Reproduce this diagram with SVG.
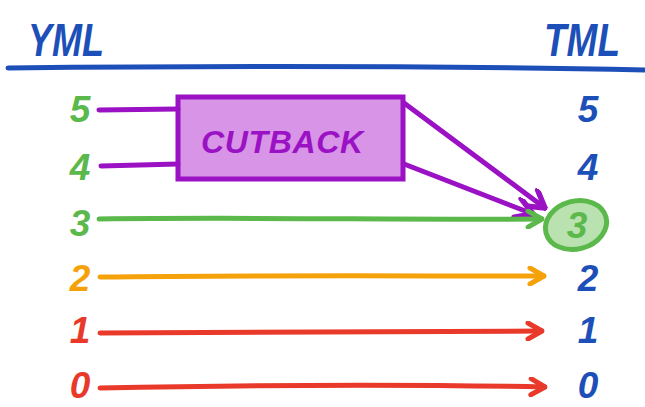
<svg xmlns="http://www.w3.org/2000/svg" width="645" height="407" viewBox="0 0 645 407">
<style>
text{font-family:"Liberation Sans",Arial,sans-serif;font-style:italic;text-anchor:middle}
.num{font-size:37px;font-weight:bold}
.hdr{font-size:46px;fill:#1d4fb8;font-weight:bold}
.g{fill:#5bb84a}.o{fill:#f5a20a}.r{fill:#e8392a}.b{fill:#1d4fb8}
.ln{fill:none;stroke-width:5;stroke-linecap:round}
.pl{stroke:#9a12c4}.gl{stroke:#5bb84a}.ol{stroke:#f5a20a}.rl{stroke:#e8392a}
</style>
<defs>
<marker id="ag" viewBox="0 0 20 20" refX="18" refY="10" markerWidth="20" markerHeight="20" markerUnits="userSpaceOnUse" orient="auto"><path d="M4,2 L18,10 L4,18" fill="none" stroke="#5bb84a" stroke-width="5" stroke-linecap="round" stroke-linejoin="round"/></marker>
<marker id="ao" viewBox="0 0 20 20" refX="18" refY="10" markerWidth="20" markerHeight="20" markerUnits="userSpaceOnUse" orient="auto"><path d="M4,2 L18,10 L4,18" fill="none" stroke="#f5a20a" stroke-width="5" stroke-linecap="round" stroke-linejoin="round"/></marker>
<marker id="ar" viewBox="0 0 20 20" refX="18" refY="10" markerWidth="20" markerHeight="20" markerUnits="userSpaceOnUse" orient="auto"><path d="M4,2 L18,10 L4,18" fill="none" stroke="#e8392a" stroke-width="5" stroke-linecap="round" stroke-linejoin="round"/></marker>
<marker id="ap" viewBox="0 0 20 20" refX="18" refY="10" markerWidth="22" markerHeight="22" markerUnits="userSpaceOnUse" orient="auto"><path d="M3,1 L18,10 L3,19" fill="none" stroke="#9a12c4" stroke-width="5" stroke-linecap="round" stroke-linejoin="round"/></marker>
</defs>
<g id="header">
<text class="hdr" x="66" y="56" textLength="76" lengthAdjust="spacingAndGlyphs">YML</text>
<text class="hdr" x="582" y="56" textLength="76" lengthAdjust="spacingAndGlyphs">TML</text>
<path d="M8,68 C200,66 450,66 645,70" fill="none" stroke="#1d4fb8" stroke-width="5" stroke-linecap="round"/>
</g>
<g id="left-labels">
<text class="num g" x="80" y="122">5</text>
<text class="num g" x="80" y="180">4</text>
<text class="num g" x="80" y="236">3</text>
<text class="num o" x="80" y="291">2</text>
<text class="num r" x="80" y="343">1</text>
<text class="num r" x="80" y="398">0</text>
</g>
<g id="right-labels">
<text class="num b" x="588" y="122">5</text>
<text class="num b" x="588" y="180">4</text>
<text class="num b" x="588" y="291">2</text>
<text class="num b" x="588" y="343">1</text>
<text class="num b" x="588" y="398">0</text>
</g>
<g id="cutback">
<rect x="178" y="97" width="225" height="82" fill="#d894e6" stroke="#9a12c4" stroke-width="5"/>
<text x="282" y="153" font-size="32" font-weight="bold" fill="#9a12c4" textLength="162">CUTBACK</text>
</g>
<g id="tml3">
<ellipse cx="576" cy="225" rx="31" ry="24" transform="rotate(-15 576 225)" fill="#b9e2b0" stroke="#5bb84a" stroke-width="5"/>
<text class="num g" x="577" y="238">3</text>
</g>
<g id="connectors">
<path class="ln pl" d="M99,110 L178,109"/>
<path class="ln pl" d="M101,166 L178,164"/>
<path class="ln pl" d="M404,103 L545,208" marker-end="url(#ap)"/>
<path class="ln pl" d="M404,164 L533,214" marker-end="url(#ap)"/>
<path class="ln gl" d="M99,219 C250,217 400,220 542,219" marker-end="url(#ag)"/>
<path class="ln ol" d="M100,277 C250,275 400,276 544,276" marker-end="url(#ao)"/>
<path class="ln rl" d="M100,333 C250,331 400,331 542,331" marker-end="url(#ar)"/>
<path class="ln rl" d="M100,388 C250,385 400,384 545,387" marker-end="url(#ar)"/>
</g>
</svg>
